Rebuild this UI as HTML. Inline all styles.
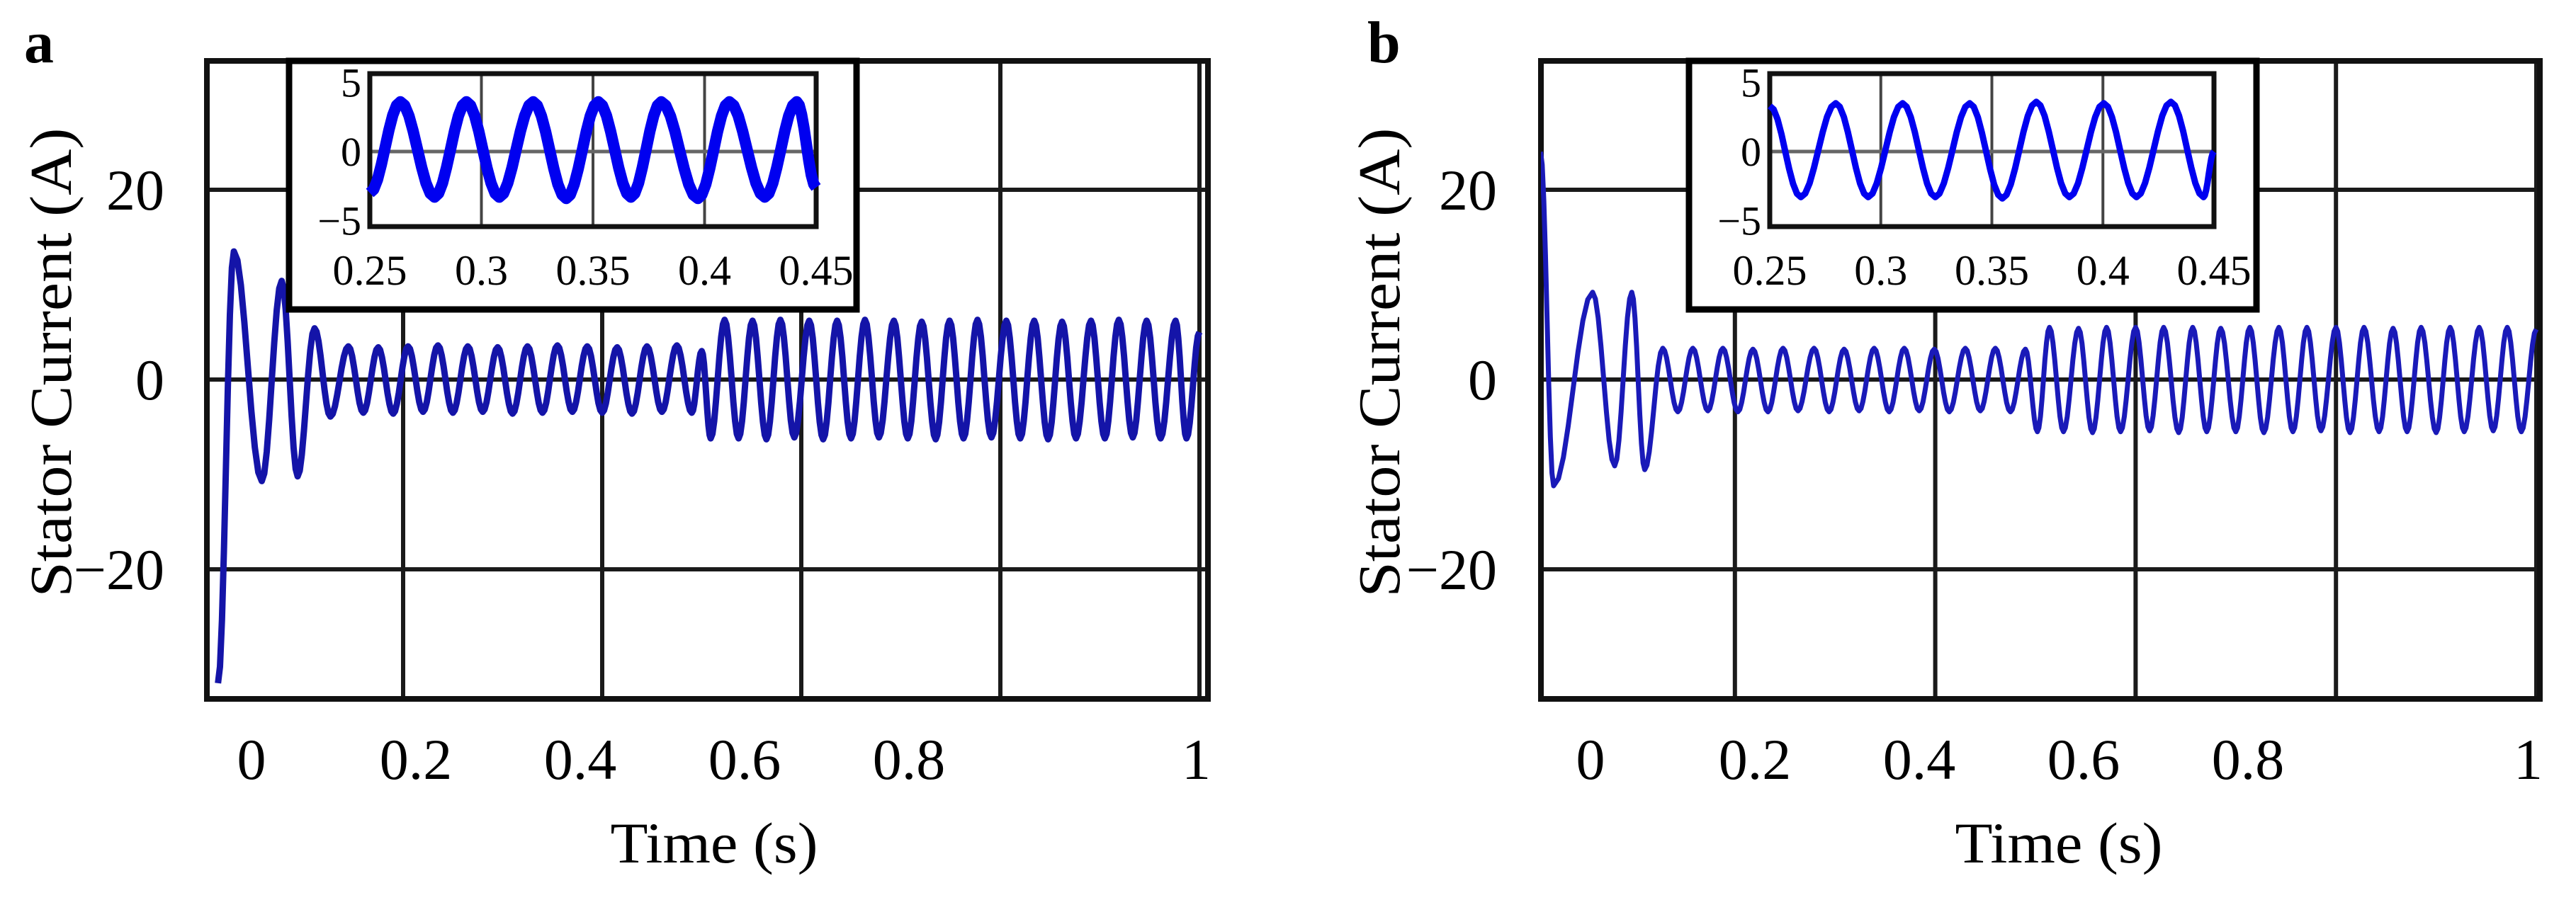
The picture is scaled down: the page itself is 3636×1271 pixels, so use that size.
<!DOCTYPE html>
<html><head><meta charset="utf-8"><style>
html,body{margin:0;padding:0;background:#fff;}
svg{display:block;font-family:"Liberation Serif",serif;}
</style></head><body>
<svg id="fig" width="3636" height="1271" viewBox="0 0 3636 1271" xmlns="http://www.w3.org/2000/svg"></svg>
<script>
// ----- Panel a main series (extrema of stator current) -----
const aTimes = [0.014,0.030,0.058,0.078,0.094,0.111,0.127,0.145,0.160,0.175,0.190,0.205,0.220,0.235,0.250,0.265,0.280,0.295,0.310,0.325,0.340,0.355,0.370,0.385,0.400,0.415,0.430,0.445,0.460,0.475,0.490,0.500,0.509,0.523,0.537,0.551,0.565,0.579,0.593,0.608,0.622,0.636,0.650,0.664,0.678,0.693,0.707,0.721,0.735,0.749,0.763,0.777,0.791,0.806,0.820,0.834,0.848,0.862,0.876,0.891,0.905,0.919,0.933,0.947,0.961,0.976,0.987,1.0];
const aValues = [-32,13.5,-10.7,10.4,-10.2,5.4,-3.9,3.5,-3.5,3.4,-3.6,3.5,-3.4,3.6,-3.5,3.5,-3.4,3.4,-3.6,3.5,-3.5,3.6,-3.4,3.5,-3.5,3.4,-3.6,3.5,-3.4,3.6,-3.5,3.0,-6.2,6.3,-6.2,6.2,-6.3,6.3,-6.1,6.2,-6.3,6.2,-6.2,6.3,-6.1,6.2,-6.2,6.1,-6.3,6.2,-6.2,6.3,-6.1,6.2,-6.2,6.2,-6.3,6.1,-6.2,6.2,-6.2,6.3,-6.1,6.2,-6.2,6.2,-6.2,5.0];
// ----- Panel a inset series -----
const aInsetTimes = [0.25,0.2637,0.279,0.2933,0.308,0.3232,0.338,0.3524,0.367,0.3806,0.397,0.4111,0.427,0.4413,0.45];
const aInsetValues = [-3.0,3.6,-3.3,3.6,-3.3,3.6,-3.4,3.6,-3.3,3.6,-3.4,3.6,-3.3,3.6,-2.6];
// ----- Panel b main series -----
const bTimes = [0.006,0.019,0.058,0.080,0.097,0.110,0.128,0.143,0.158,0.173,0.188,0.203,0.218,0.233,0.248,0.263,0.279,0.294,0.309,0.324,0.339,0.354,0.369,0.384,0.399,0.414,0.430,0.445,0.460,0.475,0.490,0.502,0.514,0.528,0.543,0.557,0.571,0.585,0.600,0.614,0.628,0.643,0.657,0.671,0.685,0.700,0.714,0.728,0.743,0.757,0.771,0.785,0.800,0.814,0.828,0.843,0.857,0.871,0.885,0.900,0.914,0.928,0.943,0.957,0.971,0.985,1.0];
const bValues = [24,-11.2,9.2,-9.1,9.2,-9.5,3.3,-3.4,3.3,-3.3,3.3,-3.4,3.2,-3.4,3.3,-3.3,3.3,-3.4,3.2,-3.3,3.3,-3.4,3.3,-3.3,3.2,-3.4,3.3,-3.3,3.3,-3.4,3.2,-5.5,5.5,-5.5,5.4,-5.6,5.5,-5.5,5.5,-5.4,5.5,-5.6,5.5,-5.5,5.4,-5.5,5.5,-5.6,5.5,-5.5,5.5,-5.4,5.5,-5.6,5.5,-5.5,5.4,-5.5,5.5,-5.6,5.5,-5.5,5.5,-5.4,5.5,-5.5,5.3];
// ----- Panel b inset series -----
const bInsetTimes = [0.25,0.264,0.2797,0.2943,0.3098,0.3245,0.3400,0.3547,0.3700,0.3849,0.4004,0.4151,0.4306,0.4453,0.45];
const bInsetValues = [3.3,-3.3,3.5,-3.3,3.5,-3.3,3.5,-3.4,3.6,-3.3,3.5,-3.3,3.6,-3.3,0.0];
// ----- Tick labels -----
const yTicks = [20,0,-20];
const yTickLabels = ["20","0","\u221220"];
const xTicks = [0,0.2,0.4,0.6,0.8,1];
const xTickLabels = ["0","0.2","0.4","0.6","0.8","1"];
const xGrid = [0.2,0.4,0.6,0.8,1];
const insetXTicks = [0.25,0.3,0.35,0.4,0.45];
const insetXTickLabels = ["0.25","0.3","0.35","0.4","0.45"];
const insetXGrid = [0.3,0.35,0.4];
const insetYTicks = [5,0,-5];
const insetYTickLabels = ["5","0","\u22125"];

const NS="http://www.w3.org/2000/svg";
const svg=document.getElementById('fig');
function mk(tag,attrs,parent,text){const e=document.createElementNS(NS,tag);for(const k in attrs)e.setAttribute(k,attrs[k]);if(text!==undefined)e.textContent=text;(parent||svg).appendChild(e);return e;}

function curvePath(ts,vs,X,Y){
  let d="M"+X(ts[0]).toFixed(1)+","+Y(vs[0]).toFixed(1);
  for(let i=0;i<ts.length-1;i++){
    const n=8;
    for(let k=1;k<=n;k++){
      const f=k/n, s=(1-Math.cos(Math.PI*f))/2;
      const t=ts[i]+(ts[i+1]-ts[i])*f, v=vs[i]+(vs[i+1]-vs[i])*s;
      d+="L"+X(t).toFixed(1)+","+Y(v).toFixed(1);
    }
  }
  return d;
}

function panel(p){
  const g=mk('g',{});
  
  
  const X=t=>p.x0+p.xs*t, Y=v=>p.y0-p.ys*v, LX=v=>p.lx0+1160*v;
  xGrid.forEach(t=>{const l=mk('line',{x1:X(t),x2:X(t),y1:p.top,y2:p.bottom,stroke:'#1a1a1a','stroke-width':6},g);
    });
  yTicks.forEach(v=>{const l=mk('line',{x1:p.left,x2:p.right,y1:Y(v),y2:Y(v),stroke:'#1a1a1a','stroke-width':6},g);
    });
  const fr=mk('rect',{x:p.left,y:p.top,width:p.right-p.left,height:p.bottom-p.top,fill:'none',stroke:'#111','stroke-width':8},g);
  
  const cp=mk('clipPath',{id:'clip'+p.id},g);mk('rect',{x:p.left,y:p.top,width:p.right-p.left,height:p.bottom-p.top},cp);
  const s=mk('path',{d:curvePath(p.ts,p.vs,X,Y),fill:'none',stroke:p.color,'stroke-width':p.lw,'stroke-linejoin':'round','clip-path':'url(#clip'+p.id+')'},g);
  
  yTicks.forEach((v,i)=>{const t=mk('text',{x:p.ylabX,y:Y(v)+28,'text-anchor':'end','font-size':82},g,yTickLabels[i]);
    });
  xTicks.forEach((v,i)=>{const last=i===xTicks.length-1;
    const t=mk('text',{x:last?p.right+4:LX(v),y:1100,'text-anchor':last?'end':'middle','font-size':82},g,xTickLabels[i]);
    });
  const xt=mk('text',{x:p.xtitleX,y:1218,'text-anchor':'middle','font-size':82,textLength:293,lengthAdjust:'spacingAndGlyphs'},g,'Time (s)');
  
  const yt=mk('text',{x:0,y:0,'text-anchor':'middle','font-size':84,textLength:663,lengthAdjust:'spacingAndGlyphs',transform:'translate('+p.ytitleX+',512) rotate(-90)'},g,'Stator Current (A)');
  
  const pl=mk('text',{x:p.letterX,y:88,'font-size':84,'font-weight':'bold'},g,p.id);
  
  // inset
  const ig=mk('g',{},g);
  
  const ob=mk('rect',{x:p.oL,y:86,width:p.oR-p.oL,height:437-86,fill:'#fff',stroke:'#000','stroke-width':9},ig);
  
  const IX=t=>p.iL+(p.iR-p.iL)*(t-0.25)/0.2, IY=v=>214-19.5*v;
  insetXGrid.forEach(t=>{const l=mk('line',{x1:IX(t),x2:IX(t),y1:104,y2:320,stroke:'#444','stroke-width':4},ig);
    });
  const zl=mk('line',{x1:p.iL,x2:p.iR,y1:IY(0),y2:IY(0),stroke:'#666','stroke-width':5},ig);
  
  const ib=mk('rect',{x:p.iL,y:104,width:p.iR-p.iL,height:216,fill:'none',stroke:'#111','stroke-width':7},ig);
  
  const is=mk('path',{d:curvePath(p.its,p.ivs,IX,IY),fill:'none',stroke:'#0000f0','stroke-width':p.ilw,'stroke-linejoin':'round'},ig);
  
  insetYTicks.forEach((v,i)=>{const t=mk('text',{x:p.iL-12,y:IY(v)+20,'text-anchor':'end','font-size':58},ig,insetYTickLabels[i]);
    });
  insetXTicks.forEach((v,i)=>{const t=mk('text',{x:IX(v),y:402,'text-anchor':'middle','font-size':60},ig,insetXTickLabels[i]);
    });
}

panel({id:'a',left:292,right:1705,top:86,bottom:987,x0:288,xs:1405,y0:536,ys:13.4,lx0:355,
  ylabX:232,xtitleX:1008,ytitleX:100,letterX:34,color:'#1414a8',lw:9,ts:aTimes,vs:aValues,
  oL:408,oR:1209,iL:522,iR:1152,its:aInsetTimes,ivs:aInsetValues,ilw:16});
panel({id:'b',left:2175,right:3585,top:86,bottom:987,x0:2166,xs:1414,y0:536,ys:13.4,lx0:2245,
  ylabX:2113,xtitleX:2906,ytitleX:1975,letterX:1930,color:'#1a1ab8',lw:7,ts:bTimes,vs:bValues,
  oL:2384,oR:3185,iL:2498,iR:3125,its:bInsetTimes,ivs:bInsetValues,ilw:9});
</script>
</body></html>
